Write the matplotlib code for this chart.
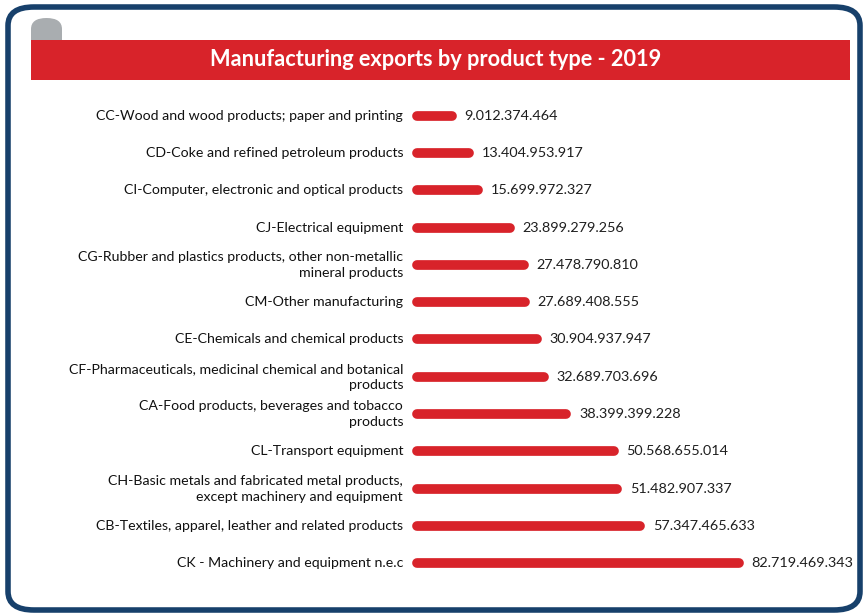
import matplotlib.pyplot as plt
from matplotlib.patches import FancyBboxPatch, Rectangle

plt.rcParams['font.family'] = ['Lato', 'DejaVu Sans']

# product groups, top to bottom
categories = [
    "CC-Wood and wood products; paper and printing",
    "CD-Coke and refined petroleum products",
    "CI-Computer, electronic and optical products",
    "CJ-Electrical equipment",
    "CG-Rubber and plastics products, other non-metallic\nmineral products",
    "CM-Other manufacturing",
    "CE-Chemicals and chemical products",
    "CF-Pharmaceuticals, medicinal chemical and botanical\nproducts",
    "CA-Food products, beverages and tobacco\nproducts",
    "CL-Transport equipment",
    "CH-Basic metals and fabricated metal products,\nexcept machinery and equipment",
    "CB-Textiles, apparel, leather and related products",
    "CK - Machinery and equipment n.e.c",
]
exports = [
    9012374464,
    13404953917,
    15699972327,
    23899279256,
    27478790810,
    27689408555,
    30904937947,
    32689703696,
    38399399228,
    50568655014,
    51482907337,
    57347465633,
    82719469343,
]

W, H = 865, 616
RED = "#d8232a"
NAVY = "#17406b"

fig = plt.figure(figsize=(W / 100, H / 100), dpi=100)

def fx(px):
    return px / W

def fy(py):
    return 1 - py / H

# rounded frame
frame = FancyBboxPatch((fx(8), fy(610)), fx(852), (610 - 7) / H,
                       boxstyle="round,pad=0,rounding_size=0.03",
                       transform=fig.transFigure, facecolor="white",
                       edgecolor=NAVY, linewidth=4, zorder=-2)
fig.patches.append(frame)

# grey tab and red title banner
tab = FancyBboxPatch((fx(31), fy(52)), fx(31), 34 / H,
                     boxstyle="round,pad=0,rounding_size=0.018",
                     transform=fig.transFigure, facecolor="#a9adb0",
                     edgecolor="none", zorder=-1)
fig.patches.append(tab)
banner = Rectangle((fx(31), fy(80)), fx(819), 40 / H,
                   transform=fig.transFigure, facecolor=RED,
                   edgecolor="none", zorder=-1)
fig.patches.append(banner)
fig.text(fx(436), fy(60), "Manufacturing exports by product type - 2019",
         color="white", fontsize=15.7, fontweight="bold",
         ha="center", va="center")

# bar area
left, right = 417, 739
top, bottom = 97, 582
ax = fig.add_axes([fx(left), fy(bottom), fx(right - left), (bottom - top) / H])
ax.set_xlim(0, max(exports))
ax.set_ylim(len(categories) - 0.5, -0.5)
ax.axis("off")

for y, (v, lab) in enumerate(zip(exports, categories)):
    ax.plot([0, v], [y, y], color=RED, linewidth=7, solid_capstyle="round",
            clip_on=False)
    txt = f"{v:,}".replace(",", ".")
    ax.annotate(txt, (v, y), xytext=(9, 0), textcoords="offset points",
                va="center", ha="left", fontsize=10.4, color="#1e1e1e")
    ax.annotate(lab, (0, y), xytext=(-10, 0), textcoords="offset points",
                va="center", ha="right", fontsize=10.2, color="#111111",
                multialignment="right", linespacing=1.4,
                annotation_clip=False)

fig.savefig("out.png", dpi=100)
